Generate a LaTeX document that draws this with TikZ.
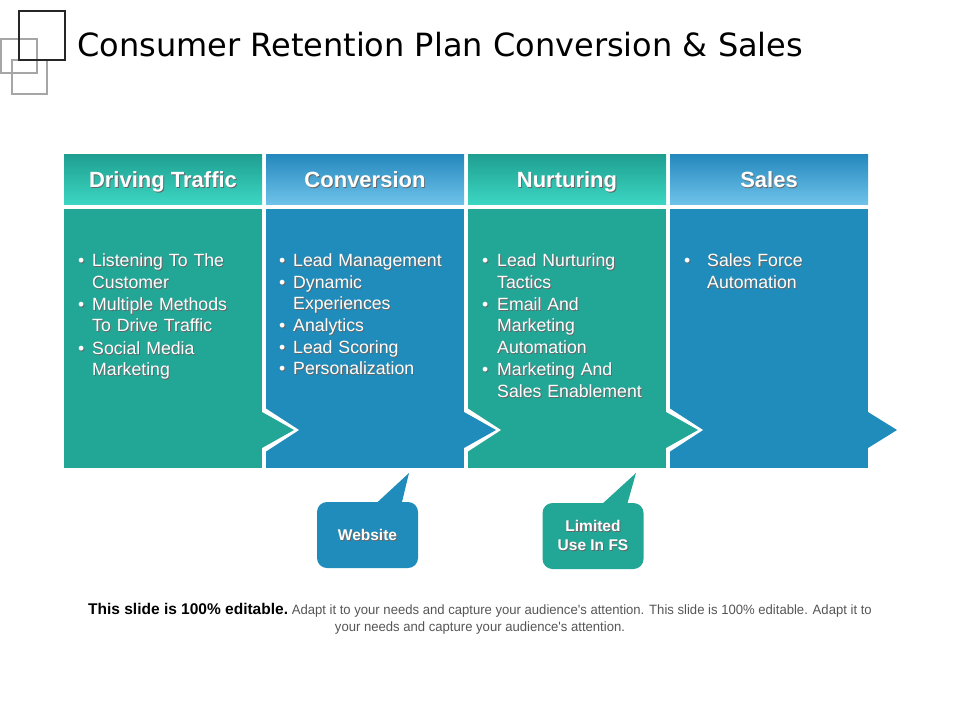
\documentclass[tikz,border=0pt]{standalone}
\usepackage{fontspec}
\setmainfont{Liberation Sans}
\newfontfamily\titlefont{DejaVu Sans}
\newfontfamily\narrowfont[FakeStretch=0.97]{Liberation Sans}
\usetikzlibrary{calc}
\definecolor{tealc}{RGB}{34,166,150}
\definecolor{bluec}{RGB}{31,140,187}
\definecolor{tealtop}{RGB}{30,158,144}
\definecolor{tealbot}{RGB}{60,214,194}
\definecolor{bluetop}{RGB}{36,136,188}
\definecolor{bluebot}{RGB}{110,194,234}
\definecolor{footgray}{RGB}{85,85,85}
\newcommand\shd[1]{\leavevmode\rlap{\kern0.9pt\raisebox{-1pt}{\textcolor{black!60}{#1}}}#1}
\newcommand\bitem[2]{\par\noindent\makebox[#1pt][l]{\shd{•}}\parbox[t]{170pt}{\strut#2\strut}}
\tikzset{
  hdr/.style={minimum width=198pt, minimum height=50pt, inner sep=0pt, text=white,
    text height=16pt, text depth=0pt, font=\fontsize{22}{26}\selectfont\bfseries},
  bodytxt/.style={anchor=north west, inner sep=0pt, text width=190pt, text=white,
    font=\fontsize{17.7}{21.4}\selectfont},
  callout/.style={minimum width=101pt, minimum height=66pt, inner sep=0pt, rounded corners=10pt,
    text=white, align=center, font=\fontsize{15.5}{19}\selectfont\bfseries}
}
\begin{document}
\begin{tikzpicture}[x=1pt,y=-1pt]
\useasboundingbox (0,0) rectangle (960,720);
% logo squares
\draw[gray!70, line width=1.2pt] (1,39) rectangle (37,73);
\draw[gray!70, line width=1.2pt] (12,60) rectangle (47,94);
\draw[black!85, line width=2pt] (19,11) rectangle (65,60);
% title
\node[anchor=base west, inner sep=0pt, font=\titlefont\fontsize{32}{36}\selectfont] (title) at (77,56) {Consumer Retention Plan Conversion \& Sales};

% bodies, drawn right to left
\fill[bluec] (670,209) rectangle (868,468);
\fill[bluec] (868,412) -- (897,430) -- (868,448) -- cycle;
\fill[tealc] (468,209) rectangle (666,468);
\fill[white] (666,406) -- (703,430) -- (666,454) -- cycle;
\fill[tealc] (666,412) -- (698,430) -- (666,448) -- cycle;
\fill[bluec] (266,209) rectangle (464,468);
\fill[white] (464,406) -- (501,430) -- (464,454) -- cycle;
\fill[bluec] (464,412) -- (496,430) -- (464,448) -- cycle;
\fill[tealc] (64,209) rectangle (262,468);
\fill[white] (262,406) -- (299,430) -- (262,454) -- cycle;
\fill[tealc] (262,412) -- (294,430) -- (262,448) -- cycle;

% headers
\node[hdr, top color=tealtop, bottom color=tealbot] (h1) at (163,179) {\shd{Driving Traffic}};
\node[hdr, top color=bluetop, bottom color=bluebot] (h2) at (365,179) {\shd{Conversion}};
\node[hdr, top color=tealtop, bottom color=tealbot] (h3) at (567,179) {\shd{Nurturing}};
\node[hdr, top color=bluetop, bottom color=bluebot] (h4) at (769,179) {\shd{Sales}};

% body texts
\node[bodytxt] (b1) at (78,245) {\bitem{14}{\shd{Listening To The}\\\shd{Customer}}%
\bitem{14}{\shd{Multiple Methods}\\\shd{To Drive Traffic}}%
\bitem{14}{\shd{Social Media}\\\shd{Marketing}}};
\node[bodytxt] (b2) at (279,245) {\bitem{14}{\shd{Lead Management}}%
\bitem{14}{\shd{Dynamic}\\\shd{Experiences}}%
\bitem{14}{\shd{Analytics}}%
\bitem{14}{\shd{Lead Scoring}}%
\bitem{14}{\shd{Personalization}}};
\node[bodytxt] (b3) at (482,245) {\bitem{15}{\shd{Lead Nurturing}\\\shd{Tactics}}%
\bitem{15}{\shd{Email And}\\\shd{Marketing}\\\shd{Automation}}%
\bitem{15}{\shd{Marketing And}\\\shd{Sales Enablement}}};
\node[bodytxt] (b4) at (684,245) {\bitem{23}{\shd{Sales Force}\\\shd{Automation}}};

% callouts
\node[callout, fill=bluec] (web) at (367.5,535) {\shd{Website}};
\fill[bluec] ($(web.north west)+(60,1)$) -- (409,473) -- ($(web.north west)+(85,1)$) -- cycle;
\node[callout, fill=tealc] (fs) at (593,536) {\shd{Limited}\\\shd{Use In FS}};
\fill[tealc] ($(fs.north west)+(60,1)$) -- (636,473) -- ($(fs.north west)+(85,1)$) -- cycle;

% footer
\node[anchor=base, inner sep=0pt] (f1) at (480,614) {{\fontsize{15.5}{18}\selectfont\bfseries This slide is 100\% editable.} {\narrowfont\fontsize{13.5}{16}\selectfont\color{footgray}Adapt it to your needs and capture your audience's attention. This slide is 100\% editable. Adapt it to}};
\node[anchor=base, inner sep=0pt, font=\narrowfont\fontsize{13.5}{16}\selectfont, text=footgray] (f2) at (480,631) {your needs and capture your audience's attention.};
\end{tikzpicture}
\end{document}
